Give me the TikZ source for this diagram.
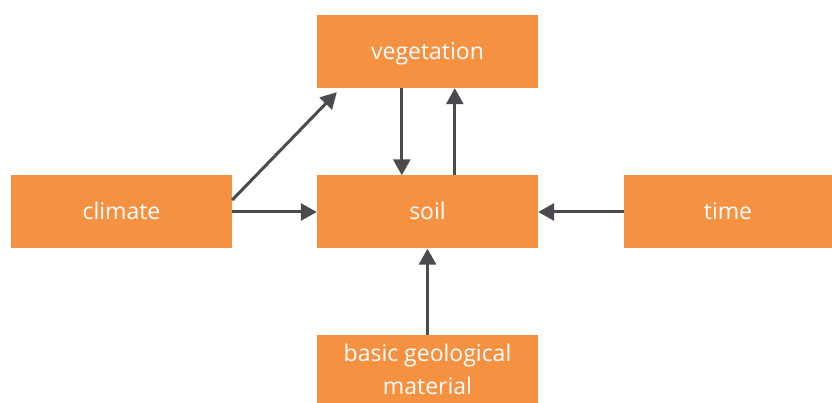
\documentclass[tikz,border=0pt]{standalone}
\usepackage{fontspec}
\setmainfont{Open Sans}
\usetikzlibrary{arrows.meta,calc}
\definecolor{boxorange}{HTML}{F79142}
\definecolor{arrowgray}{HTML}{4A4B4F}
\tikzset{
  factor/.style={fill=boxorange, draw=none, text=white, inner sep=0pt,
    minimum width=221pt, minimum height=73pt, text height=16pt, text depth=0pt,
    font=\fontsize{23}{27}\selectfont},
  link/.style={draw=arrowgray, line width=3pt,
    -{Triangle[length=16pt,width=17pt]}, shorten >=0pt}
}
\begin{document}
\begin{tikzpicture}[x=1pt,y=-1pt]
  \useasboundingbox (0,0) rectangle (832,403);
  % factor boxes
  \node[factor] (veg)     at (427.5,51.5)  {vegetation};
  \node[factor] (climate) at (121.5,212)   {climate};
  \node[factor] (soil)    at (427.5,212)   {soil};
  \node[factor, minimum width=208pt] (time) at (728,212) {time};
  \node[factor, minimum height=68pt, align=center, text height=, text depth=-5pt,
        font=\fontsize{23}{33}\selectfont] (geo) at (427.5,369)
        {basic geological\\material};
  % influences
  \draw[link] ($(climate.east)+(0,-12)$) -- ($(veg.south west)+(20,4)$);
  \draw[link] (climate.east) -- (soil.west);
  \draw[link] ($(veg.south west)+(85,0)$) -- ($(soil.north west)+(85,0)$);
  \draw[link] ($(soil.north west)+(138,0)$) -- ($(veg.south west)+(138,0)$);
  \draw[link] (time.west) -- (soil.east);
  \draw[link] (geo.north) -- (soil.south);
\end{tikzpicture}
\end{document}
